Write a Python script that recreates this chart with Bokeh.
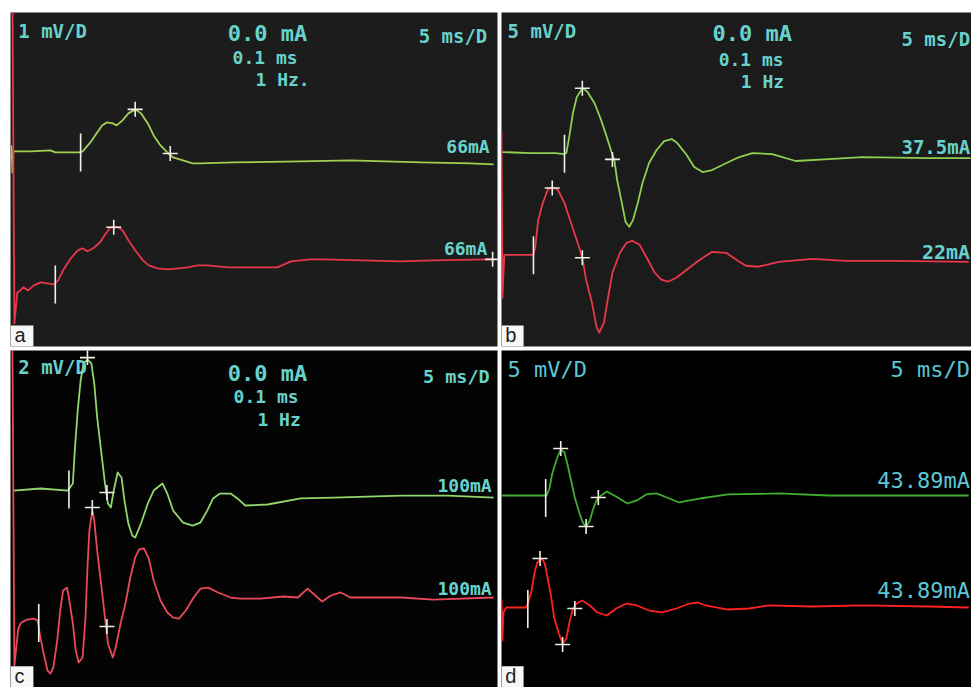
from math import pi
import numpy as np
from bokeh.plotting import figure
from bokeh.layouts import gridplot
from bokeh.embed import file_html
from bokeh.resources import INLINE

# ---------------- data (time in ms, amplitude in mV relative to each trace's baseline) ----------------
SWEEP_MS = 50          # 10 divisions x 5 ms/D
N_VDIV = 10

# panel a : 1 mV/D
A_MV_PER_DIV = 1
A_GREEN_T = [0.1, 0.2, 0.3, 2.1, 4.1, 4.6, 7.2, 7.5, 8.2, 8.9, 9.4, 9.9, 10.5, 10.9, 11.5, 12.1, 12.8, 13.4,
             14.1, 14.7, 15.4, 16.1, 16.7, 17.7, 18.7, 19.5, 22.9, 29.8, 34.9, 42.1, 47.2, 49.6]
A_GREEN_MV = [0.18, -0.63, 0.0, 0.0, 0.03, -0.03, -0.03, 0.03, 0.27, 0.57, 0.78, 0.87, 0.84, 0.78, 0.93,
              1.14, 1.26, 1.14, 0.84, 0.48, 0.18, -0.03, -0.18, -0.27, -0.36, -0.36, -0.33, -0.30, -0.27,
              -0.33, -0.36, -0.39]
A_RED_T = [0.2, 0.4, 0.7, 1.0, 1.3, 1.8, 2.4, 3.1, 3.8, 4.4, 4.9, 5.4, 6.2, 6.9, 7.4, 7.9, 8.5, 9.2, 9.8,
           10.3, 11.0, 11.5, 12.1, 12.8, 13.6, 14.2, 15.1, 16.1, 17.2, 18.2, 19.2, 20.2, 22.3, 27.4, 28.8,
           30.8, 32.1, 40.1, 43.4, 49.0, 49.7]
A_RED_MV = [8.0, -1.68, -0.75, -0.69, -0.60, -0.69, -0.54, -0.45, -0.48, -0.51, -0.39, -0.09, 0.27, 0.51,
            0.57, 0.48, 0.57, 0.75, 1.02, 1.20, 1.20, 1.11, 0.81, 0.51, 0.21, 0.06, -0.03, -0.06, -0.03,
            0.0, 0.06, 0.06, 0.0, 0.0, 0.18, 0.24, 0.24, 0.18, 0.21, 0.24, 0.24]
A_GREEN_ONSET = (7.2, -0.03)
A_GREEN_MARKS_T = [12.8, 16.4]
A_GREEN_MARKS_MV = [1.26, -0.06]
A_RED_ONSET = (4.6, -0.51)
A_RED_MARKS_T = [10.6, 49.5]
A_RED_MARKS_MV = [1.20, 0.24]
A_STIM = ["1 mV/D", "0.0 mA", "0.1 ms", "1 Hz.", "5 ms/D", "66mA", "66mA"]

# panel b : 5 mV/D
B_MV_PER_DIV = 5
B_GREEN_T = [0.1, 3.1, 5.7, 6.7, 6.9, 7.2, 7.6, 8.0, 8.6, 9.1, 9.9, 10.6, 11.2, 11.7, 12.0, 12.3, 12.8, 13.2,
             13.6, 14.0, 14.5, 15.0, 15.7, 16.5, 17.3, 18.1, 18.7, 19.7, 20.5, 21.4, 22.4, 23.5, 24.6, 25.3,
             26.7, 28.8, 31.3, 34.8, 38.4, 45.4, 49.9]
B_GREEN_MV = [0.15, 0.0, 0.0, -0.15, 0.0, 2.39, 5.97, 8.36, 9.70, 9.25, 7.46, 4.93, 2.39, 0.15, -1.04,
              -4.03, -7.46, -10.30, -11.04, -10.0, -7.46, -4.48, -1.49, 0.45, 1.79, 2.09, 1.49, -0.30,
              -2.09, -2.84, -2.54, -1.79, -1.04, -0.60, 0.0, -0.15, -1.19, -0.90, -0.60, -0.75, -0.75]
B_RED_T = [0.0, 0.1, 0.3, 3.4, 3.6, 3.9, 4.4, 4.9, 5.4, 6.0, 6.7, 7.4, 8.1, 8.6, 9.0, 9.6, 10.1, 10.4, 10.9,
           11.3, 11.8, 12.6, 13.3, 13.9, 14.7, 15.4, 16.3, 17.0, 17.7, 18.6, 19.7, 21.1, 22.4, 23.9, 25.3,
           26.0, 27.3, 29.5, 33.1, 36.6, 41.9, 49.7]
B_RED_MV = [18.96, -6.12, 0.30, 0.30, 1.49, 5.52, 8.06, 10.0, 10.45, 10.0, 8.06, 5.07, 2.09, -0.15, -3.43,
            -6.72, -10.45, -11.34, -9.85, -6.42, -2.39, 0.60, 2.09, 2.39, 1.79, 0.0, -2.39, -3.43, -3.73,
            -3.13, -1.94, -0.45, 0.75, 0.60, -0.75, -1.34, -1.49, -0.75, -0.30, -0.60, -0.60, -0.75]
B_GREEN_ONSET = (6.7, -0.10)
B_GREEN_MARKS_T = [8.6, 11.8]
B_GREEN_MARKS_MV = [9.70, -0.95]
B_RED_ONSET = (3.4, 0.22)
B_RED_MARKS_T = [5.4, 8.6]
B_RED_MARKS_MV = [10.3, -0.15]
B_STIM = ["5 mV/D", "0.0 mA", "0.1 ms", "1 Hz", "5 ms/D", "37.5mA", "22mA"]

# panel c : 2 mV/D
C_MV_PER_DIV = 2
C_GREEN_T = [0.3, 3.1, 5.9, 6.4, 6.6, 6.9, 7.2, 7.5, 7.9, 8.3, 8.6, 8.9, 9.3, 9.7, 10.0, 10.3, 10.6, 11.0,
             11.4, 11.7, 12.1, 12.5, 12.8, 13.4, 14.1, 14.7, 15.6, 16.1, 16.7, 17.7, 18.7, 19.5, 20.2, 20.8,
             21.5, 22.6, 23.3, 24.1, 26.4, 29.8, 33.2, 40.1, 44.9, 49.6]
C_GREEN_MV = [0.0, 0.12, 0.0, 0.42, 2.37, 4.75, 6.53, 7.54, 7.77, 7.54, 6.35, 4.33, 2.37, 0.42, -0.77,
              -1.01, 0.0, 1.07, 0.77, -0.59, -1.96, -2.67, -2.79, -1.96, -0.77, 0.0, 0.42, -0.18, -1.19,
              -1.90, -2.08, -1.90, -1.19, -0.47, -0.18, -0.18, -0.47, -0.89, -0.83, -0.47, -0.42, -0.30,
              -0.30, -0.42]
C_RED_T = [0.2, 0.4, 0.8, 1.1, 1.7, 2.4, 2.8, 3.0, 3.4, 3.8, 4.1, 4.4, 4.8, 5.1, 5.4, 5.8, 6.0, 6.4, 6.7,
           7.0, 7.4, 7.7, 7.9, 8.1, 8.4, 8.6, 8.9, 9.3, 9.7, 10.0, 10.5, 10.8, 11.3, 11.8, 12.3, 12.8, 13.2,
           13.7, 14.2, 14.7, 15.4, 16.1, 16.7, 17.3, 18.0, 18.8, 19.5, 20.3, 21.3, 22.6, 23.6, 25.7, 28.0,
           29.5, 30.5, 31.3, 32.0, 32.9, 33.9, 34.9, 40.1, 43.4, 49.6]
C_RED_MV = [14.66, -4.04, -1.84, -1.48, -1.31, -1.25, -1.37, -2.14, -3.32, -4.33, -4.51, -4.15, -2.55,
            -0.77, 0.42, 0.59, 0.0, -1.54, -3.15, -3.86, -3.56, -1.19, 1.78, 3.98, 5.16, 4.57, 2.79, 0.83,
            -1.19, -2.73, -3.56, -2.97, -1.54, -0.36, 1.19, 2.37, 2.85, 2.91, 2.31, 1.01, -0.18, -0.89,
            -1.19, -1.25, -0.77, 0.0, 0.53, 0.59, 0.30, 0.0, -0.06, -0.06, 0.06, 0.0, 0.53, 0.12, -0.24,
            0.12, 0.30, 0.0, 0.0, -0.12, 0.0]
C_GREEN_ONSET = (6.0, 0.06)
C_GREEN_MARKS_T = [7.9, 9.9]
C_GREEN_MARKS_MV = [7.89, -0.12]
C_RED_ONSET = (2.9, -1.51)
C_RED_MARKS_T = [8.4, 9.9]
C_RED_MARKS_MV = [5.34, -1.72]
C_STIM = ["2 mV/D", "0.0 mA", "0.1 ms", "1 Hz", "5 ms/D", "100mA", "100mA"]

# panel d : 5 mV/D
D_MV_PER_DIV = 5
D_GREEN_T = [0.0, 4.7, 4.8, 5.1, 5.4, 5.9, 6.3, 6.7, 7.0, 7.4, 7.8, 8.3, 8.7, 9.0, 9.4, 9.7, 10.1, 10.6,
             11.2, 12.0, 13.4, 14.4, 15.4, 16.5, 17.6, 18.9, 20.0, 21.1, 24.1, 29.5, 34.8, 41.9, 49.7]
D_GREEN_MV = [0.0, 0.0, 0.0, 1.04, 3.26, 5.49, 6.82, 6.38, 4.75, 2.23, -0.30, -2.67, -4.15, -4.60, -3.71,
              -2.23, -0.74, 0.0, 0.59, 0.0, -1.19, -0.74, 0.15, 0.30, -0.30, -1.04, -0.74, -0.45, 0.15,
              0.30, 0.0, 0.0, 0.0]
D_RED_T = [0.0, 0.1, 0.2, 0.5, 2.6, 2.8, 3.2, 3.5, 3.8, 4.3, 4.6, 4.9, 5.3, 5.6, 6.1, 6.5, 6.9, 7.2, 7.6,
           8.0, 8.6, 9.4, 10.2, 11.2, 12.2, 13.3, 14.4, 15.7, 17.1, 18.6, 20.0, 20.9, 21.7, 24.1, 26.3,
           28.4, 33.1, 38.4, 45.4, 49.7]
D_RED_MV = [1.34, -4.90, -0.74, 0.0, 0.0, 0.59, 2.52, 5.04, 6.68, 7.27, 6.53, 4.45, 1.48, -1.48, -3.86,
            -5.34, -4.60, -2.37, -0.15, 0.59, 1.04, 0.30, -0.74, -1.19, -0.15, 0.59, 0.30, -0.45, -0.74,
            -0.15, 0.59, 0.74, 0.30, -0.30, -0.15, 0.30, 0.15, 0.30, 0.15, 0.0]
D_GREEN_ONSET = (4.7, -0.37)
D_GREEN_MARKS_T = [6.3, 9.0, 10.3]
D_GREEN_MARKS_MV = [6.97, -4.60, -0.30]
D_RED_ONSET = (2.8, -0.22)
D_RED_MARKS_T = [4.1, 6.5, 7.8]
D_RED_MARKS_MV = [7.27, -5.49, -0.15]
D_STIM = ["5 mV/D", "5 ms/D", "43.89mA", "43.89mA"]

# ---------------- presentation ----------------
MONO = "DejaVu Sans Mono"
CURSOR = "#f2f0e6"
CYAN = "#68d2cc"
CYAN_D = "#5cc6d6"
EDGE = "edge"


def make_panel(w, h, borders, bg, mvd, green, red, offsets, texts, letter, colors):
    ymax = N_VDIV / 2 * mvd
    span = 2 * ymax
    ymin = -ymax
    xmax = SWEEP_MS
    p = figure(width=w, height=h, x_range=(0, xmax), y_range=(ymin, ymax),
               output_backend="svg", toolbar_location=None, tools="",
               x_axis_location=None, y_axis_location=None,
               background_fill_color=bg, border_fill_color="white", outline_line_color=None)
    p.grid.visible = False
    p.min_border = 0
    p.min_border_left, p.min_border_right, p.min_border_top, p.min_border_bottom = borders

    def fx(f):
        return xmax - 0.15 if f == EDGE else f * SWEEP_MS

    def fy(f):
        return ymax - f * span

    for trace, off, col in ((green, offsets[0], colors[0]), (red, offsets[1], colors[1])):
        t, mv, onset, mt, mm = trace
        p.line(t, np.array(mv) + off, line_color=col, line_width=1.8, line_join="round")
        p.scatter([onset[0]], [onset[1] + off], marker="dash", angle=pi / 2, size=38,
                  line_color=CURSOR, line_width=1.6)
        p.scatter(mt, np.array(mm) + off, marker="cross", size=15, line_color=CURSOR, line_width=1.6)

    for txt, x, y, size, align, bold, tcol in texts:
        p.text(x=[fx(x)], y=[fy(y)], text=[txt], text_font={"value": MONO}, text_font_size=size,
               text_align=align, text_baseline="middle", text_color=tcol,
               text_font_style="bold" if bold else "normal")

    # panel letter in a white box at the lower-left corner
    p.quad(left=[0], right=[fx(0.047)], bottom=[ymin - span], top=[ymin + 0.063 * span],
           fill_color="#f7f7f7", line_color=None)
    p.text(x=[fx(0.008)], y=[ymin + 0.002 * span], text=[letter],
           text_font={"value": "Liberation Sans"}, text_font_size="20px", text_color="#1e1e1e",
           text_align="left", text_baseline="bottom")
    return p


pa = make_panel(499, 348, (10, 2, 12, 2), "#1c1c1c", A_MV_PER_DIV,
                (A_GREEN_T, A_GREEN_MV, A_GREEN_ONSET, A_GREEN_MARKS_T, A_GREEN_MARKS_MV),
                (A_RED_T, A_RED_MV, A_RED_ONSET, A_RED_MARKS_T, A_RED_MARKS_MV),
                (0.84, -2.63),
                [(A_STIM[0], 0.016, 0.054, "19px", "left", True, CYAN),
                 (A_STIM[1], 0.446, 0.063, "22px", "left", True, CYAN),
                 (A_STIM[2], 0.456, 0.135, "18px", "left", True, CYAN),
                 (A_STIM[3], 0.503, 0.200, "18px", "left", True, CYAN),
                 (A_STIM[4], 0.979, 0.069, "19px", "right", True, CYAN),
                 (A_STIM[5], 0.984, 0.401, "18px", "right", True, CYAN),
                 (A_STIM[6], 0.979, 0.707, "18px", "right", True, CYAN)],
                "a", ("#a4cf52", "#e8364a"))

pb = make_panel(472, 348, (2, 0, 12, 2), "#1b1b1b", B_MV_PER_DIV,
                (B_GREEN_T, B_GREEN_MV, B_GREEN_ONSET, B_GREEN_MARKS_T, B_GREEN_MARKS_MV),
                (B_RED_T, B_RED_MV, B_RED_ONSET, B_RED_MARKS_T, B_RED_MARKS_MV),
                (3.96, -11.57),
                [(B_STIM[0], 0.013, 0.054, "19px", "left", True, CYAN),
                 (B_STIM[1], 0.449, 0.063, "22px", "left", True, CYAN),
                 (B_STIM[2], 0.462, 0.140, "18px", "left", True, CYAN),
                 (B_STIM[3], 0.509, 0.206, "18px", "left", True, CYAN),
                 (B_STIM[4], EDGE, 0.078, "19px", "right", True, CYAN),
                 (B_STIM[5], EDGE, 0.403, "19px", "right", True, CYAN),
                 (B_STIM[6], EDGE, 0.716, "20px", "right", True, CYAN)],
                "b", ("#8fd052", "#e8384c"))

pc = make_panel(499, 339, (10, 2, 2, 0), "#040404", C_MV_PER_DIV,
                (C_GREEN_T, C_GREEN_MV, C_GREEN_ONSET, C_GREEN_MARKS_T, C_GREEN_MARKS_MV),
                (C_RED_T, C_RED_MV, C_RED_ONSET, C_RED_MARKS_T, C_RED_MARKS_MV),
                (1.69, -4.66),
                [(C_STIM[0], 0.016, 0.050, "19px", "left", True, CYAN),
                 (C_STIM[1], 0.446, 0.068, "22px", "left", True, CYAN),
                 (C_STIM[2], 0.458, 0.136, "18px", "left", True, CYAN),
                 (C_STIM[3], 0.507, 0.205, "18px", "left", True, CYAN),
                 (C_STIM[4], 0.984, 0.077, "18.5px", "right", True, CYAN),
                 (C_STIM[5], 0.988, 0.401, "18px", "right", True, CYAN),
                 (C_STIM[6], 0.988, 0.706, "18px", "right", True, CYAN)],
                "c", ("#90d76c", "#ea485c"))

pd = make_panel(472, 339, (2, 0, 2, 0), "#000000", D_MV_PER_DIV,
                (D_GREEN_T, D_GREEN_MV, D_GREEN_ONSET, D_GREEN_MARKS_T, D_GREEN_MARKS_MV),
                (D_RED_T, D_RED_MV, D_RED_ONSET, D_RED_MARKS_T, D_RED_MARKS_MV),
                (3.49, -13.13),
                [(D_STIM[0], 0.013, 0.056, "22px", "left", False, CYAN_D),
                 (D_STIM[1], EDGE, 0.056, "22px", "right", False, CYAN_D),
                 (D_STIM[2], EDGE, 0.386, "22px", "right", False, CYAN_D),
                 (D_STIM[3], EDGE, 0.712, "22px", "right", False, CYAN_D)],
                "d", ("#3fae2e", "#ff2020"))

grid = gridplot([[pa, pb], [pc, pd]], toolbar_location=None)

open("out.html", "w").write(file_html(grid, INLINE))
